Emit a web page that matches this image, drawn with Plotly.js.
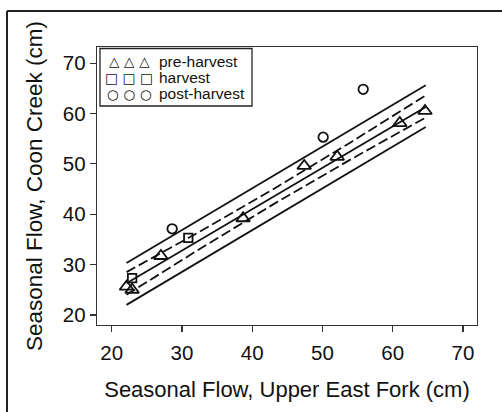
<!DOCTYPE html>
<html>
<head>
<meta charset="utf-8">
<script src="https://cdn.plot.ly/plotly-3.0.1.min.js"></script>
<style>
html,body{margin:0;padding:0;background:#fff;}
#chart{width:502px;height:412px;}
</style>
</head>
<body>
<div id="chart"></div>
<script>
// ---- data ----
const seriesNames = ["pre-harvest", "harvest", "post-harvest"];
const legendGlyphs = ["\u25B3 \u25B3 \u25B3", "\u25A1 \u25A1 \u25A1", "\u25CB \u25CB \u25CB"];

const preX  = [22.1, 22.9, 27.0, 38.7, 47.4, 52.1, 61.0, 64.6];
const preY  = [25.6, 25.0, 31.7, 39.2, 49.6, 51.4, 58.1, 60.5];
const harvX = [22.9, 30.9];
const harvY = [27.3, 35.3];
const postX = [28.6, 50.1, 55.8];
const postY = [37.1, 55.3, 64.8];

// regression line, confidence band (dashed), prediction band (solid)
const fitX    = [22.1, 64.7];
const fitY    = [26.3, 61.3];
const ciX     = [22.1, 32.75, 43.4, 54.05, 64.7];
const ciUpper = [28.5, 36.7, 45.3, 54.3, 63.6];
const ciLower = [24.0, 33.3, 42.3, 50.9, 59.2];
const piX     = [22.1, 64.7];
const piUpper = [30.3, 65.6];
const piLower = [22.0, 57.3];

const xTicks = [20, 30, 40, 50, 60, 70];
const yTicks = [20, 30, 40, 50, 60, 70];

// ---- figure ----
const FONT = "Arial, 'Liberation Sans', Helvetica, sans-serif";
const lineSolid = {color: "#111", width: 1.8};
const lineDash  = {color: "#111", width: 1.8, dash: "10px,4px"};

const traces = [
  {x: piX, y: piUpper, mode: "lines", line: lineSolid, showlegend: false, hoverinfo: "skip"},
  {x: piX, y: piLower, mode: "lines", line: lineSolid, showlegend: false, hoverinfo: "skip"},
  {x: ciX, y: ciUpper, mode: "lines", line: lineDash, showlegend: false, hoverinfo: "skip"},
  {x: ciX, y: ciLower, mode: "lines", line: lineDash, showlegend: false, hoverinfo: "skip"},
  {x: fitX, y: fitY, mode: "lines", line: lineSolid, showlegend: false, hoverinfo: "skip"},
  {x: preX, y: preY, mode: "markers", name: seriesNames[0], showlegend: false,
   marker: {symbol: "triangle-up-open", size: 12, color: "#111", line: {width: 1.8, color: "#111"}}},
  {x: harvX, y: harvY, mode: "markers", name: seriesNames[1], showlegend: false,
   marker: {symbol: "square-open", size: 8.5, color: "#111", line: {width: 1.8, color: "#111"}}},
  {x: postX, y: postY, mode: "markers", name: seriesNames[2], showlegend: false,
   marker: {symbol: "circle-open", size: 9.5, color: "#111", line: {width: 1.8, color: "#111"}}}
];

// plot area pixels: x 97..477, y 47..325
const PL = 97, PR = 477, PT = 47, PB = 325;
const px = v => (v - PL) / (PR - PL);
const py = v => (PB - v) / (PB - PT);

const legendRowsY = [61, 77.5, 94];
const annotations = [];
seriesNames.forEach((n, i) => {
  annotations.push({xref: "paper", yref: "paper", x: px(129), y: py(legendRowsY[i]),
    text: "<b>" + legendGlyphs[i] + "</b>", showarrow: false, xanchor: "center", yanchor: "middle",
    font: {family: "'DejaVu Sans', sans-serif", size: 13.5, color: "#111"}});
  annotations.push({xref: "paper", yref: "paper", x: px(157), y: py(legendRowsY[i]),
    text: n, showarrow: false, xanchor: "left", yanchor: "middle",
    font: {family: FONT, size: 15.5, color: "#111"}});
});

const layout = {
  width: 502, height: 412,
  margin: {l: PL, r: 502 - PR, t: PT, b: 412 - PB, pad: 0},
  paper_bgcolor: "#fff", plot_bgcolor: "#fff",
  showlegend: false,
  font: {family: FONT, color: "#111"},
  xaxis: {
    range: [17.9, 72.0], tickvals: xTicks, ticktext: xTicks.map(String),
    ticks: "outside", ticklen: 6, tickwidth: 1.2, tickcolor: "#333",
    showline: true, linecolor: "#333", linewidth: 1.3, mirror: true,
    showgrid: false, zeroline: false, ticklabelstandoff: 3,
    tickfont: {family: FONT, size: 20.5, color: "#111"},
    title: {text: "Seasonal Flow, Upper East Fork (cm)", font: {family: FONT, size: 22, color: "#111"}, standoff: 18}
  },
  yaxis: {
    range: [18.0, 73.2], tickvals: yTicks, ticktext: yTicks.map(String),
    ticks: "outside", ticklen: 6, tickwidth: 1.2, tickcolor: "#333",
    showline: true, linecolor: "#333", linewidth: 1.3, mirror: true,
    showgrid: false, zeroline: false,
    tickfont: {family: FONT, size: 20.5, color: "#111"},
    title: {text: "Seasonal Flow, Coon Creek (cm)", font: {family: FONT, size: 22.5, color: "#111"}, standoff: 14}
  },
  shapes: [
    // legend box
    {type: "rect", xref: "paper", yref: "paper", x0: px(100), x1: px(252), y0: py(106), y1: py(48.5),
     line: {color: "#222", width: 1.3}, fillcolor: "rgba(0,0,0,0)"},
    // outer figure frame (top and left edges)
    {type: "line", xref: "paper", yref: "paper", x0: px(7), x1: px(505), y0: py(11), y1: py(11),
     line: {color: "#222", width: 2}},
    {type: "line", xref: "paper", yref: "paper", x0: px(7), x1: px(7), y0: py(11), y1: py(415),
     line: {color: "#222", width: 2}}
  ],
  annotations: annotations
};

Plotly.newPlot("chart", traces, layout, {displayModeBar: false, staticPlot: true});
</script>
</body>
</html>
